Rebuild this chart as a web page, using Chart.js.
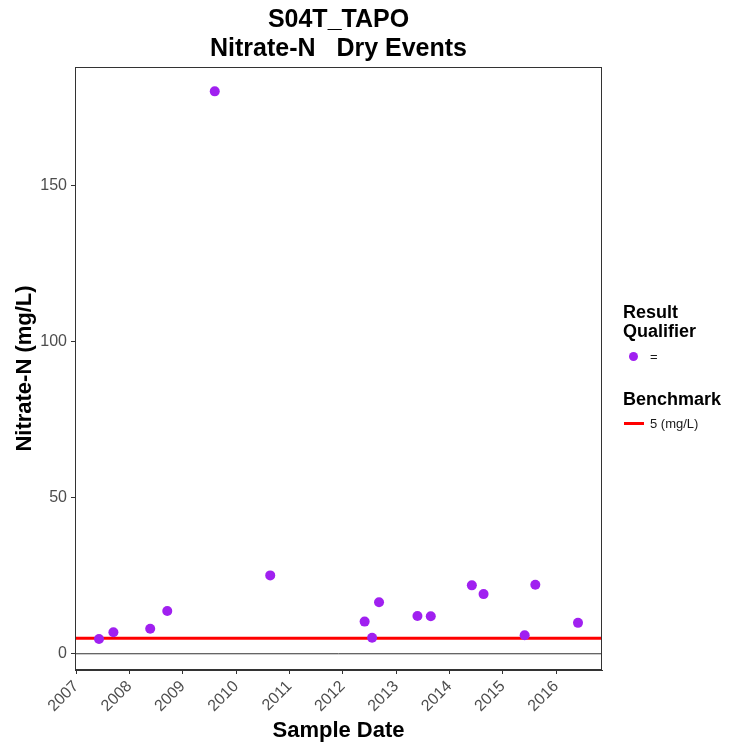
<!DOCTYPE html>
<html>
<head>
<meta charset="utf-8">
<script src="https://cdn.jsdelivr.net/npm/chart.js@4/dist/chart.umd.min.js"></script>
<style>
    body { margin: 0; background: #fff; }
    #wrap { width: 729px; height: 746px; }
</style>
</head>
<body>
<div id="wrap"><canvas id="nitrateChart" width="729" height="746"></canvas></div>
<script>
// sample dates as decimal years
const sampleDates = [2007.43, 2007.70, 2008.39, 2008.71, 2009.60, 2010.64, 2012.41, 2012.55, 2012.68, 2013.40, 2013.65, 2014.42, 2014.64, 2015.41, 2015.61, 2016.41];
const nitrateValues = [4.7, 6.9, 8.0, 13.7, 180.1, 25.1, 10.3, 5.1, 16.5, 12.1, 12.0, 21.9, 19.1, 5.9, 22.1, 9.9];
const yearTicks = [2007, 2008, 2009, 2010, 2011, 2012, 2013, 2014, 2015, 2016];
const valueTicks = [0, 50, 100, 150];
const benchmarkValue = 5;
const xRange = [2006.98, 2016.86];
const yRange = [-5.2, 187.9];

document.addEventListener('DOMContentLoaded', function() {
    const fontFamily = '"Liberation Sans", Arial, sans-serif';
    const axisGray = '#333333';
    const tickGray = '#4d4d4d';

    // panel border + legend on the right
    const extrasPlugin = {
        id: 'extras',
        afterDatasetsDraw(chart) {
            const ctx = chart.ctx;
            const a = chart.chartArea;
            ctx.save();
            ctx.strokeStyle = axisGray;
            ctx.lineWidth = 1;
            ctx.strokeRect(a.left + 0.5, a.top + 0.5, a.right - a.left - 1, a.bottom - a.top - 1);

            const lx = 623;
            ctx.fillStyle = '#000';
            ctx.textAlign = 'left';
            ctx.textBaseline = 'alphabetic';
            ctx.font = 'bold 18px ' + fontFamily;
            ctx.fillText('Result', lx, 318);
            ctx.fillText('Qualifier', lx, 337);
            ctx.fillText('Benchmark', lx, 405);

            ctx.fillStyle = '#a020f0';
            ctx.beginPath();
            ctx.arc(633.5, 356.5, 4.5, 0, Math.PI * 2);
            ctx.fill();

            ctx.strokeStyle = '#ff0000';
            ctx.lineWidth = 3;
            ctx.beginPath();
            ctx.moveTo(624, 423.5);
            ctx.lineTo(644, 423.5);
            ctx.stroke();

            ctx.fillStyle = '#1a1a1a';
            ctx.font = '13px ' + fontFamily;
            ctx.textBaseline = 'middle';
            ctx.fillText('=', 650, 357);
            ctx.fillText('5 (mg/L)', 650, 424);
            ctx.restore();
        }
    };

    const ctx = document.getElementById('nitrateChart');
    new Chart(ctx.getContext('2d'), {
        type: 'scatter',
        data: {
            datasets: [
                {
                    label: 'Zero',
                    type: 'line',
                    data: [{ x: xRange[0], y: 0 }, { x: xRange[1], y: 0 }],
                    borderColor: axisGray,
                    borderWidth: 1,
                    pointRadius: 0,
                    order: 3
                },
                {
                    label: 'Benchmark',
                    type: 'line',
                    data: [{ x: xRange[0], y: benchmarkValue }, { x: xRange[1], y: benchmarkValue }],
                    borderColor: '#ff0000',
                    borderWidth: 3,
                    pointRadius: 0,
                    order: 2
                },
                {
                    label: '=',
                    data: sampleDates.map((d, i) => ({ x: d, y: nitrateValues[i] })),
                    backgroundColor: '#a020f0',
                    borderColor: '#a020f0',
                    pointRadius: 5,
                    borderWidth: 0,
                    order: 1
                }
            ]
        },
        options: {
            responsive: false,
            animation: false,
            layout: {
                padding: { top: 0, right: 127, bottom: 0, left: 0 }
            },
            plugins: {
                legend: { display: false },
                tooltip: { enabled: false },
                title: {
                    display: true,
                    fullSize: false,
                    text: ['S04T_TAPO', 'Nitrate-N   Dry Events'],
                    color: '#000',
                    font: { family: fontFamily, size: 25, weight: 'bold', lineHeight: 1.16 },
                    padding: { top: 6, bottom: 3 }
                }
            },
            scales: {
                x: {
                    type: 'linear',
                    min: xRange[0],
                    max: xRange[1],
                    afterBuildTicks: scale => { scale.ticks = yearTicks.map(v => ({ value: v })); },
                    afterFit: scale => { scale.height = 76; },
                    ticks: {
                        callback: v => String(v),
                        color: tickGray,
                        font: { family: fontFamily, size: 16 },
                        minRotation: 45,
                        maxRotation: 45,
                        padding: 3
                    },
                    grid: {
                        display: true,
                        drawOnChartArea: false,
                        drawTicks: true,
                        tickLength: 4,
                        color: axisGray
                    },
                    border: { display: true, color: axisGray },
                    title: {
                        display: true,
                        text: 'Sample Date',
                        color: '#000',
                        font: { family: fontFamily, size: 22, weight: 'bold' },
                        padding: { top: 0, bottom: 2 }
                    }
                },
                y: {
                    min: yRange[0],
                    max: yRange[1],
                    afterBuildTicks: scale => { scale.ticks = valueTicks.map(v => ({ value: v })); },
                    afterFit: scale => { scale.width = 75; },
                    ticks: {
                        color: tickGray,
                        font: { family: fontFamily, size: 16 },
                        padding: 4
                    },
                    grid: {
                        display: true,
                        drawOnChartArea: false,
                        drawTicks: true,
                        tickLength: 4,
                        color: axisGray
                    },
                    border: { display: true, color: axisGray },
                    title: {
                        display: true,
                        text: 'Nitrate-N (mg/L)',
                        color: '#000',
                        font: { family: fontFamily, size: 22, weight: 'bold' },
                        padding: { top: 12, bottom: 0 }
                    }
                }
            }
        },
        plugins: [extrasPlugin]
    });
});
</script>
</body>
</html>
